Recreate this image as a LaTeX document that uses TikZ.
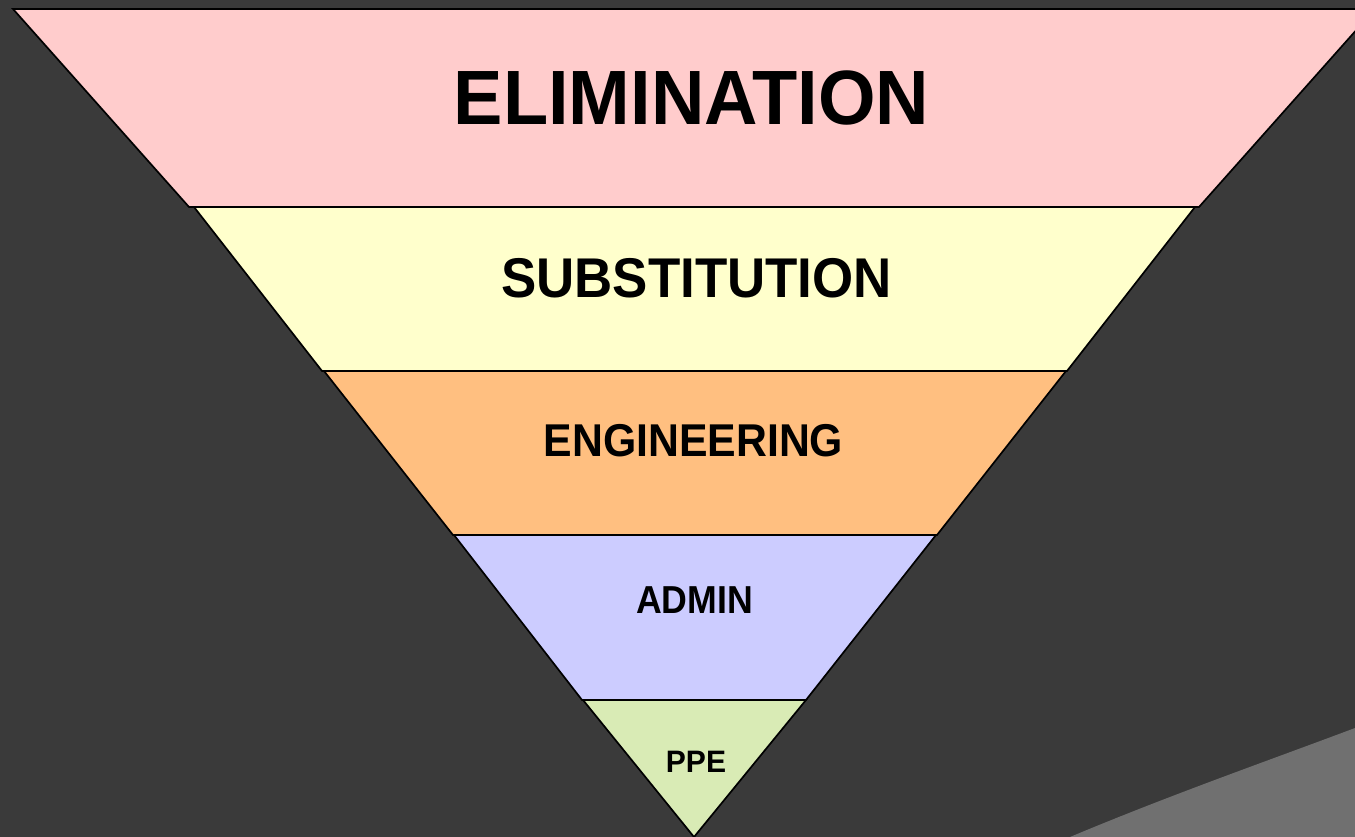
\documentclass[tikz,border=0pt]{standalone}
\usepackage{fontspec}
\setmainfont{Liberation Sans}
\definecolor{bgdark}{HTML}{3A3A3A}
\definecolor{bgtex}{HTML}{707070}
\definecolor{cpink}{HTML}{FFCCCC}
\definecolor{cyellow}{HTML}{FFFFCC}
\definecolor{corange}{HTML}{FFBF80}
\definecolor{cblue}{HTML}{CCCCFF}
\definecolor{cgreen}{HTML}{D9EBB5}
\tikzset{
  band/.style={draw=black, line width=1.7pt, line join=miter},
  lbl/.style={anchor=base, inner sep=0pt, font=\bfseries}
}
\begin{document}
\begin{tikzpicture}[x=1pt,y=-1pt]
\useasboundingbox (0,0) rectangle (1355,837);
\fill[bgdark] (0,0) rectangle (1355,837);
\fill[bgtex] (1070,837) .. controls (1170,795) and (1270,760) .. (1355,728) -- (1355,837) -- cycle;
\clip (0,0) rectangle (1355,837);
\path[band, fill=cpink] (13,9) -- (1375,9) -- (1199,207) -- (189,207) -- cycle;
\path[band, fill=cyellow] (194,207) -- (1195,207) -- (1067,371) -- (322,371) -- cycle;
\path[band, fill=corange] (324,371) -- (1066,371) -- (937,535) -- (453,535) -- cycle;
\path[band, fill=cblue] (454,535) -- (936,535) -- (806,700) -- (582,700) -- cycle;
\path[band, fill=cgreen] (583,700) -- (806,700) -- (694,837) -- cycle;
\node[lbl, font=\fontsize{77}{77}\selectfont\bfseries] (elim) at (691.5,125) {\scalebox{0.961}[1]{ELIMINATION}};
\node[lbl, font=\fontsize{56}{56}\selectfont\bfseries] (subst) at (696.5,297) {\scalebox{0.944}[1]{SUBSTITUTION}};
\node[lbl, font=\fontsize{46}{46}\selectfont\bfseries] (eng) at (693.5,456) {\scalebox{0.93}[1]{ENGINEERING}};
\node[lbl, font=\fontsize{39}{39}\selectfont\bfseries] (admin) at (694.5,613) {\scalebox{0.915}[1]{ADMIN}};
\node[lbl, font=\fontsize{31}{31}\selectfont\bfseries] (ppe) at (696,772) {\scalebox{0.97}[1]{PPE}};
\end{tikzpicture}
\end{document}
